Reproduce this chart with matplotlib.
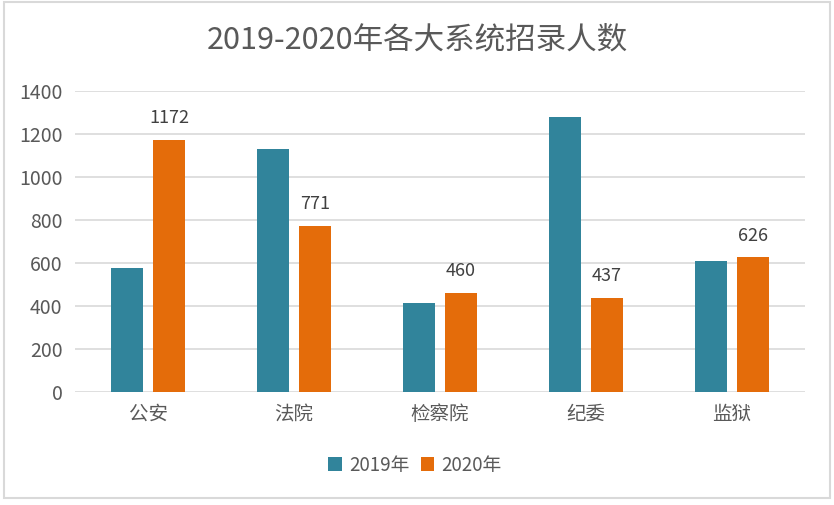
import numpy as np
import matplotlib
matplotlib.use("Agg")
import matplotlib.pyplot as plt
from matplotlib.patches import Rectangle

plt.rcParams['font.family'] = ['Noto Sans CJK SC', 'DejaVu Sans']

# data
categories = ["公安", "法院", "检察院", "纪委", "监狱"]
values_2019 = [577, 1130, 411, 1276, 609]
values_2020 = [1172, 771, 460, 437, 626]
series_names = ["2019年", "2020年"]
title = "2019-2020年各大系统招录人数"

blue = "#31849B"
orange = "#E46C0A"
text_color = "#595959"
grid_color = "#D9D9D9"

fig = plt.figure(figsize=(8.34, 5.05), dpi=100)
ax = fig.add_axes([75 / 834, 1 - 391.7 / 505, 730 / 834, 301 / 505])

x = np.arange(len(categories))
width = 0.22
offset = 0.144
ax.bar(x - offset, values_2019, width, color=blue, label=series_names[0], zorder=3)
bars20 = ax.bar(x + offset, values_2020, width, color=orange, label=series_names[1], zorder=3)

# value labels only on the 2020 series
for rect, v in zip(bars20, values_2020):
    ax.annotate(str(v), (rect.get_x() + rect.get_width() / 2, v),
                xytext=(0, 9), textcoords="offset points",
                ha="center", va="bottom", fontsize=13, color="#404040")

ax.set_xlim(-0.5, len(categories) - 0.5)
ax.set_ylim(0, 1400)
ax.set_yticks(np.arange(0, 1401, 200))
ax.set_xticks(x)
ax.set_xticklabels(categories)
ax.tick_params(axis="both", length=0, labelsize=14, colors=text_color)
ax.tick_params(axis="y", pad=9)
ax.tick_params(axis="x", pad=9)
ax.yaxis.grid(True, color=grid_color, linewidth=1.2, zorder=0)
for s in ax.spines.values():
    s.set_visible(False)

fig.text(0.5, 1 - 40 / 505, title, ha="center", va="center",
         fontsize=22, color=text_color)

ax.legend(loc="center", bbox_to_anchor=(415 / 834, 1 - 465 / 505), bbox_transform=fig.transFigure,
          ncol=2, frameon=False, fontsize=13.5, handlelength=0.7, handleheight=0.7,
          handletextpad=0.4, columnspacing=0.6, labelcolor=text_color)

# outer chart border
fig.patches.append(Rectangle((4 / 834, 1 - 498 / 505), 826 / 834, 496 / 505,
                             transform=fig.transFigure, fill=False,
                             edgecolor=grid_color, linewidth=1.5))

fig.savefig("out.png", dpi=100, facecolor="white")
